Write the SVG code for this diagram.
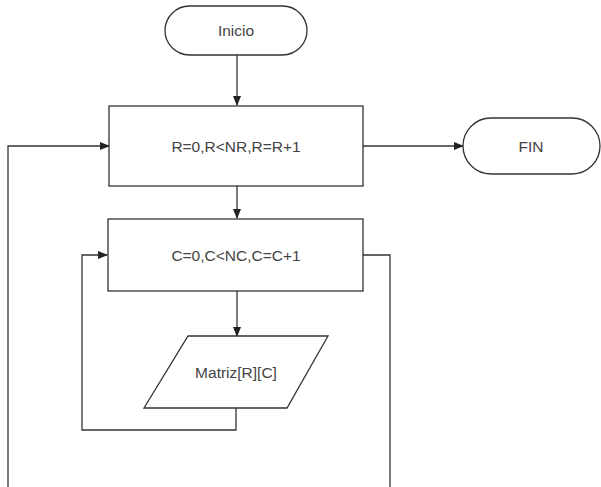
<svg xmlns="http://www.w3.org/2000/svg" width="601" height="487" viewBox="0 0 601 487">
<style>
.s{fill:#fff;stroke:#333;stroke-width:1.3}
.c{fill:none;stroke:#333;stroke-width:1.3}
.t{font-family:"Liberation Sans",Arial,sans-serif;font-size:15.5px;fill:#444;text-anchor:middle;dominant-baseline:central}
</style>
<defs>
<marker id="a" markerWidth="10" markerHeight="8" refX="9" refY="4" orient="auto" markerUnits="userSpaceOnUse">
<path d="M0,0 L10,4 L0,8 Z" fill="#222"/>
</marker>
</defs>
<rect width="601" height="487" fill="#fff"/>
<g id="connectors">
<path class="c" d="M237,55 V105" marker-end="url(#a)"/>
<path class="c" d="M363,146 H463" marker-end="url(#a)"/>
<path class="c" d="M8,487 V146 H109" marker-end="url(#a)"/>
<path class="c" d="M237,186 V218" marker-end="url(#a)"/>
<path class="c" d="M363,255 H390 V487"/>
<path class="c" d="M237,291 V336" marker-end="url(#a)"/>
<path class="c" d="M236,408 V430 H82 V255 H107" marker-end="url(#a)"/>
</g>
<g id="inicio">
<rect class="s" x="165" y="6" width="142" height="49" rx="24.5"/>
<text class="t" x="236" y="30">Inicio</text>
</g>
<g id="loopR">
<rect class="s" x="109" y="106" width="254" height="80"/>
<text class="t" x="236" y="146">R=0,R&lt;NR,R=R+1</text>
</g>
<g id="fin">
<rect class="s" x="463" y="118" width="137" height="56" rx="28"/>
<text class="t" x="531" y="146">FIN</text>
</g>
<g id="loopC">
<rect class="s" x="108" y="219" width="255" height="72"/>
<text class="t" x="236" y="255">C=0,C&lt;NC,C=C+1</text>
</g>
<g id="matriz">
<polygon class="s" points="188,336 328,336 287,408 144,408"/>
<text class="t" x="236" y="372">Matriz[R][C]</text>
</g>
</svg>
